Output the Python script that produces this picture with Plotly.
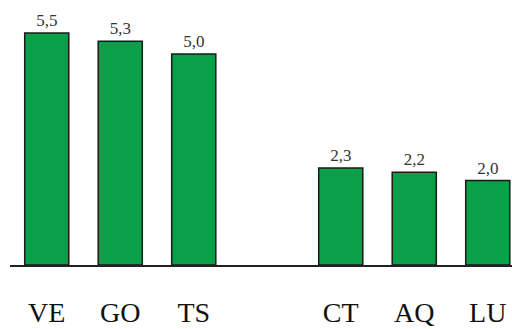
import plotly.graph_objects as go

categories = ["VE", "GO", "TS", "", "CT", "AQ", "LU"]
values = [5.5, 5.3, 5.0, None, 2.3, 2.2, 2.0]
value_labels = ["5,5", "5,3", "5,0", "", "2,3", "2,2", "2,0"]

fig = go.Figure(go.Bar(
    x=list(range(len(categories))),
    y=values,
    text=value_labels,
    textposition="outside",
    textfont=dict(family="Liberation Serif, serif", size=17, color="#333333"),
    cliponaxis=False,
    width=0.6,
    marker=dict(color="#0a9f49", line=dict(color="#1a1a1a", width=1.5)),
))

fig.update_layout(
    width=512, height=329,
    margin=dict(l=10, r=0, t=0, b=64),
    paper_bgcolor="white", plot_bgcolor="white",
    showlegend=False,
    uniformtext=dict(minsize=17, mode="show"),
)
fig.update_xaxes(
    range=[-0.5, 6.33],
    tickmode="array",
    tickvals=list(range(len(categories))),
    ticktext=categories,
    ticks="",
    showgrid=False,
    zeroline=False,
    showline=True, linecolor="#222222", linewidth=1.5,
    tickfont=dict(family="Liberation Serif, serif", size=28, color="#111111"),
    ticklabelstandoff=22,
)
fig.update_yaxes(
    range=[0, 6.28],
    visible=False,
    showgrid=False,
    zeroline=False,
)

fig.write_html("out.html")
